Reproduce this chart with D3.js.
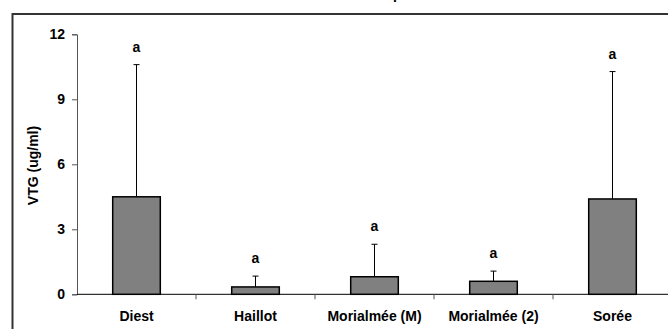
<!DOCTYPE html>
<html>
<head>
<meta charset="utf-8">
<script src="https://cdn.jsdelivr.net/npm/d3@7"></script>
<style>
  body { margin: 0; background: #fff; }
  text { font-family: "Liberation Sans", Arial, sans-serif; font-weight: bold; }
</style>
</head>
<body>
<div id="chart"></div>
<script>
// data
const sites = ["Diest", "Haillot", "Morialmée (M)", "Morialmée (2)", "Sorée"];
const meanVtg = [4.5, 0.34, 0.81, 0.6, 4.4];
const sdVtg = [6.1, 0.5, 1.5, 0.47, 5.88];
const groupLetters = ["a", "a", "a", "a", "a"];
const yTicks = [0, 3, 6, 9, 12];

const width = 668, height = 329;

const svg = d3.select("#chart").append("svg")
  .attr("width", width)
  .attr("height", height);

// outer frame (runs off right and bottom)
svg.append("rect")
  .attr("x", 12.5).attr("y", 14)
  .attr("width", 720).attr("height", 400)
  .attr("fill", "none")
  .attr("stroke", "#333")
  .attr("stroke-width", 2);

// cut off title descender
svg.append("text")
  .attr("x", 393).attr("y", -1)
  .attr("font-size", 14)
  .text("p");

const x = d3.scaleBand()
  .domain(sites)
  .range([77, 672])
  .paddingInner(0.6)
  .paddingOuter(0.3);

const y = d3.scaleLinear().domain([0, 12]).range([294.3, 34.3]);

// y axis
const yAxis = svg.append("g")
  .attr("transform", "translate(77,0)")
  .call(d3.axisLeft(y).tickValues(yTicks).tickSize(5).tickPadding(7));
yAxis.select(".domain").attr("stroke", "#555");
yAxis.selectAll(".tick line").attr("stroke", "#555");
yAxis.selectAll("text")
  .attr("font-size", 14)
  .attr("font-family", "Liberation Sans, Arial, sans-serif")
  .attr("font-weight", "bold")
  .attr("fill", "#000");

// x axis line
svg.append("line")
  .attr("x1", 77).attr("x2", 672)
  .attr("y1", y(0)).attr("y2", y(0))
  .attr("stroke", "#000");

// category separators
const step = x.step();
svg.append("g").selectAll("line")
  .data(sites.slice(1))
  .join("line")
  .attr("x1", d => x(d) - x.paddingInner() * step / 2 - 0.5 + 0.5)
  .attr("x2", d => x(d) - x.paddingInner() * step / 2)
  .attr("y1", y(0))
  .attr("y2", y(0) + 5)
  .attr("stroke", "#555");

// category labels
svg.append("g").selectAll("text")
  .data(sites)
  .join("text")
  .attr("x", d => x(d) + x.bandwidth() / 2)
  .attr("y", 321)
  .attr("text-anchor", "middle")
  .attr("font-size", 14)
  .text(d => d);

// y label
svg.append("text")
  .attr("transform", `translate(38,${165.5}) rotate(-90)`)
  .attr("text-anchor", "middle")
  .attr("font-size", 14)
  .text("VTG (ug/ml)");

// error bars (upper only)
const err = svg.append("g");
sites.forEach((s, i) => {
  const cx = x(s) + x.bandwidth() / 2;
  const top = y(meanVtg[i] + sdVtg[i]);
  err.append("line")
    .attr("x1", cx).attr("x2", cx)
    .attr("y1", y(meanVtg[i])).attr("y2", top)
    .attr("stroke", "#000");
  err.append("line")
    .attr("x1", cx - 3).attr("x2", cx + 3)
    .attr("y1", top).attr("y2", top)
    .attr("stroke", "#000");
  err.append("text")
    .attr("x", cx)
    .attr("y", top - 13)
    .attr("text-anchor", "middle")
    .attr("font-size", 14)
    .text(groupLetters[i]);
});

// bars
svg.append("g").selectAll("rect")
  .data(sites)
  .join("rect")
  .attr("x", d => x(d))
  .attr("y", (d, i) => y(meanVtg[i]))
  .attr("width", x.bandwidth())
  .attr("height", (d, i) => y(0) - y(meanVtg[i]))
  .attr("fill", "#808080")
  .attr("stroke", "#000")
  .attr("stroke-width", 1.5);
</script>
</body>
</html>
